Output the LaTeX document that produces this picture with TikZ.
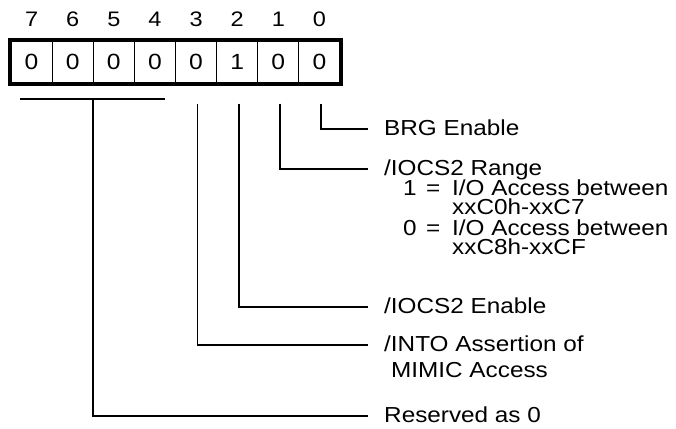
\documentclass[tikz,border=0pt]{standalone}
\usepackage{fontspec}
\setmainfont{Liberation Sans}[FakeStretch=1.12]
\usetikzlibrary{positioning}

\tikzset{
  bitcell/.style={draw, line width=1.2pt, minimum width=41.125pt, minimum height=42pt,
    inner sep=0pt, font=\fontsize{22}{22}\selectfont},
  bitnum/.style={inner sep=0pt, font=\fontsize{21}{21}\selectfont},
  desc/.style={anchor=base west, inner sep=0pt, font=\fontsize{21.7}{21.7}\selectfont},
  lead/.style={line width=1.7pt},
}

\begin{document}
\begin{tikzpicture}[x=1pt, y=-1pt]
  \useasboundingbox (0,0) rectangle (676,428);

  % register cells, bit 7 on the left
  \foreach \b/\v [count=\i from 0] in {7/0,6/0,5/0,4/0,3/0,2/1,1/0,0/0} {
    \node[bitcell] (c\b) at ({31.56+41.125*\i},62) {\v};
    \node[bitnum] (n\b) at ({31.56+41.125*\i},19) {\b};
  }
  % thick frame round the register
  \draw[line width=4.2pt] (c7.north west) rectangle (c0.south east);

  % field texts
  \node[desc] (t0) at (384,135) {BRG Enable};
  \node[desc] (t1) at (384,175) {/IOCS2 Range};
  \node[desc] (t1a) at (403,195) {1};
  \node[desc] (t1b) at (426,195) {=};
  \node[desc] (t1c) at (452,195) {I/O Access between};
  \node[desc] (t1d) at (452,214) {xxC0h-xxC7};
  \node[desc] (t1e) at (403,235.5) {0};
  \node[desc] (t1f) at (426,235.5) {=};
  \node[desc] (t1g) at (452,235.5) {I/O Access between};
  \node[desc] (t1h) at (452,254.5) {xxC8h-xxCF};
  \node[desc] (t2) at (384,313) {/IOCS2 Enable};
  \node[desc] (t3) at (384,351) {/INTO Assertion of};
  \node[desc] (t3b) at (391,377) {MIMIC Access};
  \node[desc] (t4) at (384,422) {Reserved as 0};

  % leaders
  \foreach \b in {0,1,2,3}
    \draw[lead] ([xshift=1.5pt, yshift=-20pt]c\b.south) |- ([xshift=-16pt, yshift=6pt]t\b.base west);

  % bits 7-4 share one bracket
  \coordinate (bl) at (20,99);
  \coordinate (br) at (165,99);
  \coordinate (bm) at (93,99);
  \draw[lead] (bl) -- (br);
  \draw[lead] (bm) |- ([xshift=-16pt, yshift=6pt]t4.base west);
\end{tikzpicture}
\end{document}
